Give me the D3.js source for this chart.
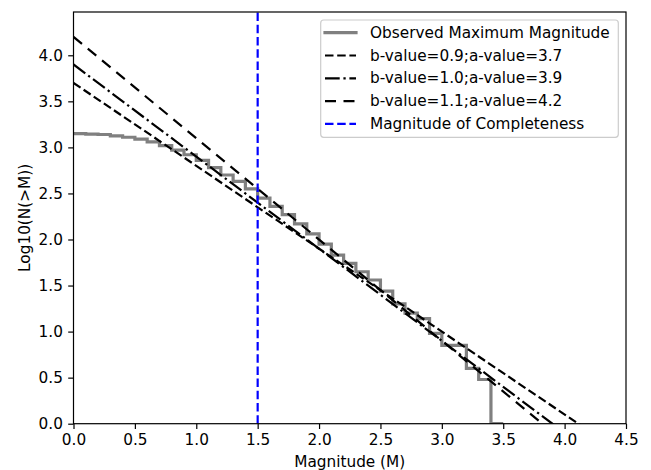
<!DOCTYPE html>
<html>
<head>
<meta charset="utf-8">
<script src="https://cdn.jsdelivr.net/npm/d3@7"></script>
<style>
  html, body { margin: 0; padding: 0; background: #fff; }
  svg { display: block; font-family: "DejaVu Sans", sans-serif; }
</style>
</head>
<body>
<svg id="chart" width="651" height="470"></svg>
<script>
// ---- data ----
const magnitudes = [0.0,0.1,0.2,0.3,0.4,0.5,0.6,0.7,0.8,0.9,1.0,1.1,1.2,1.3,1.4,1.5,1.6,1.7,1.8,1.9,2.0,2.1,2.2,2.3,2.4,2.5,2.6,2.7,2.8,2.9,3.0,3.1,3.2,3.3,3.4,3.5];
const logN = [3.15,3.145,3.14,3.125,3.11,3.09,3.06,3.02,2.97,2.92,2.86,2.78,2.70,2.63,2.55,2.45,2.36,2.27,2.17,2.06,1.95,1.83,1.74,1.65,1.56,1.44,1.30,1.20,1.14,0.98,0.85,0.85,0.60,0.48,0.0,0.0];
const bValues = [0.9, 1.0, 1.1];
const aValues = [3.7, 3.9, 4.2];
const fitLabels = ["b-value=0.9;a-value=3.7", "b-value=1.0;a-value=3.9", "b-value=1.1;a-value=4.2"];
const fitRange = [0, 4.5];
const mc = 1.5;
const xTicks = [0, 0.5, 1.0, 1.5, 2.0, 2.5, 3.0, 3.5, 4.0, 4.5];
const yTicks = [0, 0.5, 1.0, 1.5, 2.0, 2.5, 3.0, 3.5, 4.0];

(function () {
// ---- layout ----
const svg = d3.select("#chart");
const pL = 73.5, pR = 626, pT = 12, pB = 423.7;
const fs = 15.3;
const x = d3.scaleLinear().domain([0, 4.5]).range([pL, pR]);
const y = d3.scaleLinear().domain([0, 4.47]).range([pB, pT]);

svg.append("defs").append("clipPath").attr("id", "clip")
  .append("rect").attr("x", pL).attr("y", pT).attr("width", pR - pL).attr("height", pB - pT);

const plot = svg.append("g").attr("clip-path", "url(#clip)");

// observed step line
const stepLine = d3.line().x((d, i) => x(magnitudes[i])).y(d => y(d)).curve(d3.curveStepAfter);
plot.append("path").datum(logN)
  .attr("d", stepLine)
  .attr("fill", "none").attr("stroke", "#808080").attr("stroke-width", 3.2)
  .attr("stroke-linejoin", "miter");

const dashes = ["8.5,3.7", "14.7,3.7,2.3,3.7", "11,7.5"];
bValues.forEach((b, k) => {
  const a = aValues[k];
  plot.append("path")
    .datum(fitRange)
    .attr("d", d3.line().x(m => x(m)).y(m => y(a - b * m)))
    .attr("fill", "none").attr("stroke", "#000").attr("stroke-width", 2.2)
    .attr("stroke-dasharray", dashes[k]);
});

// completeness line
plot.append("line")
  .attr("x1", x(mc)).attr("x2", x(mc)).attr("y1", pB).attr("y2", pT)
  .attr("stroke", "#0000ff").attr("stroke-width", 2.2).attr("stroke-dasharray", "8.5,3.7");

// axes
const xAxis = d3.axisBottom(x).tickValues(xTicks).tickFormat(d3.format(".1f")).tickSize(5.3).tickPadding(5.3);
const yAxis = d3.axisLeft(y).tickValues(yTicks).tickFormat(d3.format(".1f")).tickSize(5.3).tickPadding(5.3);
const gx = svg.append("g").attr("transform", `translate(0,${pB})`).call(xAxis);
const gy = svg.append("g").attr("transform", `translate(${pL},0)`).call(yAxis);
[gx, gy].forEach(g => {
  g.select(".domain").remove();
  g.selectAll(".tick line").attr("stroke", "#000").attr("stroke-width", 1.2);
  g.selectAll(".tick text").attr("font-size", fs).attr("fill", "#000").attr("font-family", "DejaVu Sans");
});
// frame
svg.append("rect").attr("x", pL).attr("y", pT).attr("width", pR - pL).attr("height", pB - pT)
  .attr("fill", "none").attr("stroke", "#000").attr("stroke-width", 1.2);

// labels
svg.append("text").attr("x", (pL + pR) / 2).attr("y", 467).attr("text-anchor", "middle")
  .attr("font-size", fs).text("Magnitude (M)");
svg.append("text").attr("transform", `translate(25,${(pT + pB) / 2}) rotate(-90)`)
  .attr("text-anchor", "middle").attr("dominant-baseline", "central")
  .attr("font-size", fs).text("Log10(N(>M))");

// legend
const lg = svg.append("g");
lg.append("rect").attr("x", 320.7).attr("y", 20).attr("width", 618.3 - 320.7).attr("height", 137.3 - 20)
  .attr("rx", 3).attr("fill", "#fff").attr("fill-opacity", 0.8).attr("stroke", "#cccccc").attr("stroke-width", 1.2);
const entries = [
  { label: "Observed Maximum Magnitude", color: "#808080", width: 3.2, dash: null, cap: "square" },
  { label: fitLabels[0], color: "#000", width: 2.2, dash: dashes[0], cap: "butt" },
  { label: fitLabels[1], color: "#000", width: 2.2, dash: dashes[1], cap: "butt" },
  { label: fitLabels[2], color: "#000", width: 2.2, dash: dashes[2], cap: "butt" },
  { label: "Magnitude of Completeness", color: "#0000ff", width: 2.2, dash: "8.5,3.7", cap: "butt" }
];
entries.forEach((e, i) => {
  const cy = 32.7 + i * 22.8;
  const ln = lg.append("line").attr("x1", 325).attr("x2", 356).attr("y1", cy).attr("y2", cy)
    .attr("stroke", e.color).attr("stroke-width", e.width).attr("stroke-linecap", e.cap);
  if (e.dash) ln.attr("stroke-dasharray", e.dash);
  lg.append("text").attr("x", 370).attr("y", cy).attr("dominant-baseline", "central")
    .attr("font-size", fs).attr("fill", "#000").text(e.label);
});
})();
</script>
</body>
</html>
